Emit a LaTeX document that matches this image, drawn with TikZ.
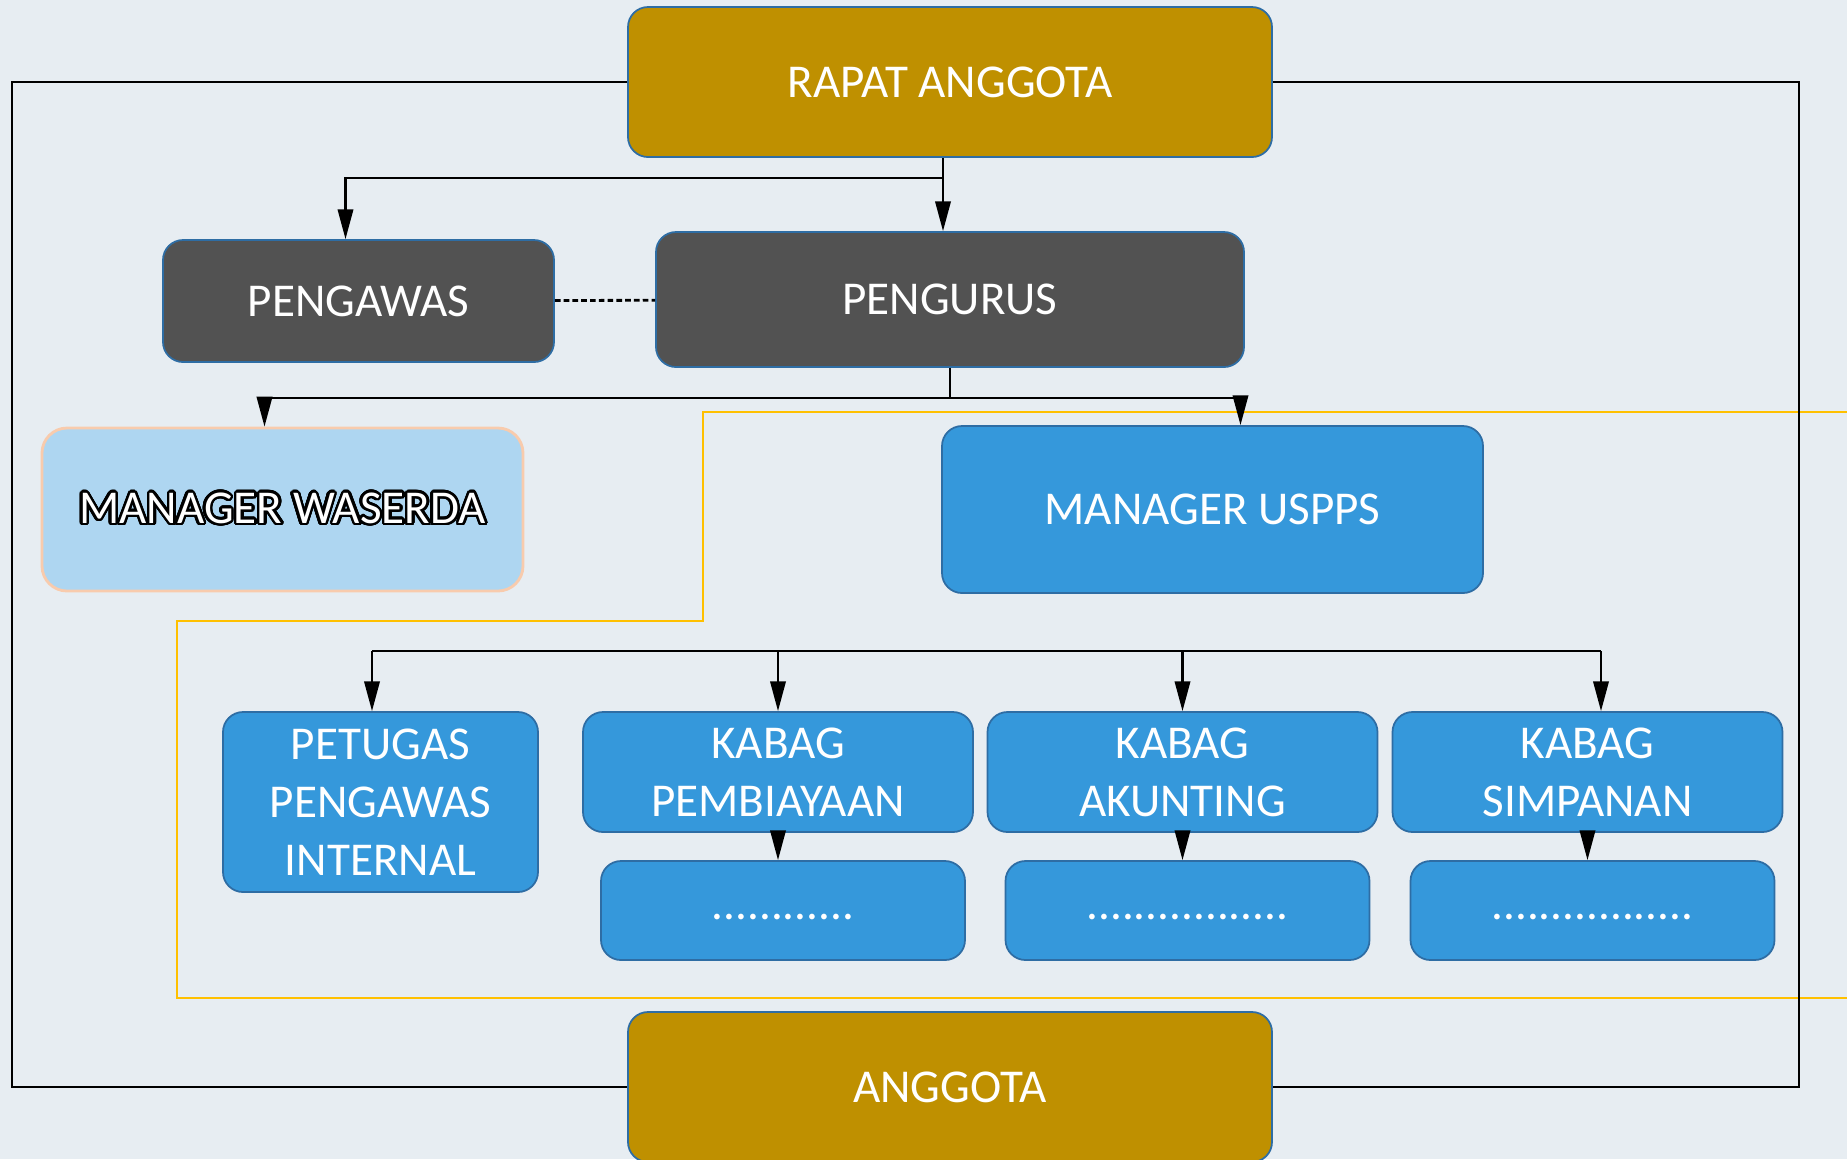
\documentclass[tikz,border=0pt]{standalone}
\usepackage{fontspec}
\setmainfont{Carlito}
\usepackage[copies]{contour}
\contourlength{0.7pt}
\contournumber{32}
\usetikzlibrary{arrows.meta, positioning, calc}
\definecolor{bgcol}{HTML}{E7EDF2}
\definecolor{goldbox}{HTML}{BF9000}
\definecolor{darkbox}{HTML}{525252}
\definecolor{bluebox}{HTML}{3598DB}
\definecolor{blueline}{HTML}{2E6DA4}
\definecolor{lightbox}{HTML}{AED6F1}
\definecolor{peachline}{HTML}{F8CBAD}
\definecolor{yellowline}{HTML}{FFC000}

\begin{document}
\begin{tikzpicture}[
  font=\fontsize{13.4}{16.5}\selectfont,
  unit/.style={
    rectangle,
    draw=blueline,
    line width=0.5pt,
    rounded corners=0.2cm,
    align=center,
    text=white,
    inner sep=2pt
  },
  top/.style={
    unit,
    fill=goldbox,
    minimum width=6.44cm,
    minimum height=1.5cm
  },
  board/.style={
    unit,
    fill=darkbox
  },
  dept/.style={
    unit,
    fill=bluebox
  },
  conn/.style={
    -{Triangle[length=8.5pt,width=4.4pt]},
    line width=0.65pt,
    draw=black
  },
  bus/.style={
    line width=0.75pt,
    draw=black
  }
]

% Background
\fill[bgcol] (0,0) rectangle (18.47,-11.59);
\useasboundingbox (0,0) rectangle (18.47,-11.59);

% Yellow frame (behind everything)
\draw[yellowline, line width=0.7pt]
  (18.47,-4.12) -- (7.03,-4.12) -- (7.03,-6.21) -- (1.77,-6.21)
  -- (1.77,-9.98) -- (18.47,-9.98);

% Nodes
\node[top] (rapat)   at (9.50,-0.82)  {RAPAT ANGGOTA};
\node[top] (anggota) at (9.50,-10.87) {ANGGOTA};

\node[board, minimum width=3.91cm, minimum height=1.22cm] (pengawas) at (3.585,-3.01) {PENGAWAS};
\node[board, minimum width=5.88cm, minimum height=1.35cm] (pengurus) at (9.50,-2.995) {PENGURUS};

\node[unit, fill=lightbox, draw=peachline, line width=0.8pt, rounded corners=0.25cm,
      minimum width=4.81cm, minimum height=1.63cm] (waserda) at (2.825,-5.095)
  {\contour{black}{MANAGER WASERDA}};
\node[dept, minimum width=5.41cm, minimum height=1.67cm] (uspps) at (12.125,-5.095) {MANAGER USPPS};

\node[dept, minimum width=3.15cm, minimum height=1.80cm] (ppi) at (3.805,-8.02)
  {PETUGAS\\PENGAWAS\\INTERNAL};
\node[dept, minimum width=3.90cm, minimum height=1.20cm] (kab1) at (7.78,-7.72)  {KABAG\\PEMBIAYAAN};
\node[dept, minimum width=3.90cm, minimum height=1.20cm] (kab2) at (11.825,-7.72) {KABAG\\AKUNTING};
\node[dept, minimum width=3.90cm, minimum height=1.20cm] (kab3) at (15.875,-7.72) {KABAG\\SIMPANAN};

\node[dept, minimum width=3.64cm, minimum height=0.99cm] (dots1) at (7.83,-9.105)   {\raisebox{-1.8mm}{............}};
\node[dept, minimum width=3.64cm, minimum height=0.99cm] (dots2) at (11.875,-9.105) {\raisebox{-1.8mm}{.................}};
\node[dept, minimum width=3.64cm, minimum height=0.99cm] (dots3) at (15.925,-9.105) {\raisebox{-1.8mm}{.................}};

% Outer loop
\draw[bus] (rapat.west) -- ++(-6.15,0) |- (anggota.west);
\draw[bus] (rapat.east) -- ++(5.26,0) |- (anggota.east);

% Top level
\draw[conn] ([xshift=-0.07cm]rapat.south) -- ([xshift=-0.07cm]pengurus.north);
\draw[conn] ([xshift=-0.07cm,yshift=-0.2cm]rapat.south) -| ([xshift=-0.13cm]pengawas.north);
\draw[line width=0.8pt, dash pattern=on 1.6pt off 0.9pt] (pengawas) -- (pengurus);

% Managers
\draw[conn] (pengurus.south) -- ++(0,-0.30) -| ([xshift=-0.18cm]waserda.north);
\draw[conn] (pengurus.south) -- ++(0,-0.30) -| ([xshift=0.28cm]uspps.north);

% Departments
\coordinate (busL) at (3.72,-6.51);
\coordinate (busR) at (16.01,-6.51);
\draw[bus] (busL) -- (busR);
\draw[conn] (busL) -- (busL |- ppi.north);
\draw[conn] (kab1.north |- busL) -- (kab1.north);
\draw[conn] (kab2.north |- busL) -- (kab2.north);
\draw[conn] (busR) -- (busR |- kab3.north);

\foreach \i in {1,2,3}
  \draw[conn] (kab\i.south) -- (kab\i.south |- dots\i.north);

\end{tikzpicture}
\end{document}
